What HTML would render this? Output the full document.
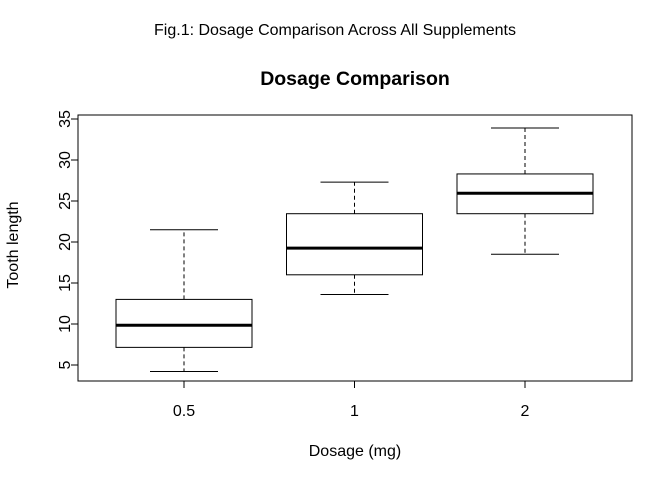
<!DOCTYPE html>
<html><head><meta charset="utf-8"><style>
body{margin:0;background:#fff;font-family:"Liberation Sans",Arial,sans-serif}
svg text{font-family:"Liberation Sans",Arial,sans-serif;fill:#000}
</style></head><body>
<svg id="chart" width="672" height="480" viewBox="0 0 672 480">
<text x="335" y="35" text-anchor="middle" font-size="16">Fig.1: Dosage Comparison Across All Supplements</text>
<text x="355" y="85" text-anchor="middle" font-size="19.5" font-weight="bold">Dosage Comparison</text>
<rect x="78" y="115" width="554" height="266" fill="none" stroke="#000"/>
<text transform="translate(18,245) rotate(-90)" text-anchor="middle" font-size="16">Tooth length</text>
<text x="355" y="456" text-anchor="middle" font-size="16">Dosage (mg)</text>
<g id="axes"></g><g id="boxes"></g>
</svg>
<script>
const categories=["0.5","1","2"];
const mins=[4.2,13.6,18.5];
const q1s=[7.15,16.0,23.45];
const medians=[9.85,19.25,25.95];
const q3s=[13.0,23.45,28.3];
const maxs=[21.5,27.3,33.9];
const yTicks=[5,10,15,20,25,30,35];
const NS="http://www.w3.org/2000/svg";
function y(v){return 365-(v-5)*8.2;}
function x(i){return 184+i*170.5;}
function mk(tag,attrs,parent){const e=document.createElementNS(NS,tag);for(const k in attrs)e.setAttribute(k,attrs[k]);parent.appendChild(e);return e;}
const ax=document.getElementById('axes'),bx=document.getElementById('boxes');
mk('line',{x1:78,x2:78,y1:y(5),y2:y(35),stroke:'#000'},ax);
yTicks.forEach(t=>{
 const l=mk('line',{x1:71,x2:78,y1:y(t),y2:y(t),stroke:'#000'},ax);
 
 
 const tx=mk('text',{transform:`translate(70,${y(t)}) rotate(-90)`,'text-anchor':'middle','font-size':16},ax);
 tx.textContent=t;
 
 
});
mk('line',{x1:x(0),x2:x(2),y1:381,y2:381,stroke:'#000'},ax);
categories.forEach((c,i)=>{
 const l=mk('line',{x1:x(i),x2:x(i),y1:381,y2:388,stroke:'#000'},ax);
 
 
 const tx=mk('text',{x:x(i),y:416,'text-anchor':'middle','font-size':16},ax);
 tx.textContent=c;
 
 
 const g=mk('g',{},bx);
 
 
 const cx=x(i),hw=68,cw=34;
 mk('line',{x1:cx,x2:cx,y1:y(q3s[i]),y2:y(maxs[i]),stroke:'#000','stroke-dasharray':'4,3'},g);
 mk('line',{x1:cx,x2:cx,y1:y(q1s[i]),y2:y(mins[i]),stroke:'#000','stroke-dasharray':'4,3'},g);
 mk('line',{x1:cx-cw,x2:cx+cw,y1:y(maxs[i]),y2:y(maxs[i]),stroke:'#000'},g);
 mk('line',{x1:cx-cw,x2:cx+cw,y1:y(mins[i]),y2:y(mins[i]),stroke:'#000'},g);
 mk('rect',{x:cx-hw,y:y(q3s[i]),width:2*hw,height:y(q1s[i])-y(q3s[i]),fill:'#fff',stroke:'#000'},g);
 mk('line',{x1:cx-hw,x2:cx+hw,y1:y(medians[i]),y2:y(medians[i]),stroke:'#000','stroke-width':3},g);
});
</script>
</body></html>
